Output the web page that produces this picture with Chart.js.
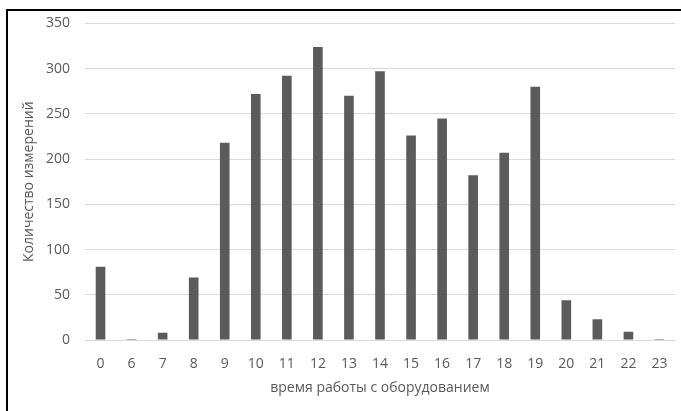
<!DOCTYPE html>
<html lang="ru">
<head>
  <meta charset="UTF-8">
  <title>Количество измерений</title>
  <script src="https://cdn.jsdelivr.net/npm/chart.js"></script>
  <style>
    html, body { margin: 0; padding: 0; background: #fff; overflow: hidden; }
    .frame {
      position: absolute; left: 6px; top: 9px; width: 700px; height: 420px;
      border-left: 2px solid #000; border-top: 2px solid #000;
    }
    .wrap { position: absolute; left: 0; top: 0; width: 681px; height: 411px; }
  </style>
</head>
<body>
  <div class="frame"></div>
  <div class="wrap"><canvas id="chart"></canvas></div>
  <script>
    const hours = ['0', '6', '7', '8', '9', '10', '11', '12', '13', '14', '15', '16', '17', '18', '19', '20', '21', '22', '23'];
    const counts = [81, 1, 8, 69, 218, 272, 292, 324, 270, 297, 226, 245, 182, 207, 280, 44, 23, 9, 1];
    const yTicks = [0, 50, 100, 150, 200, 250, 300, 350];

    const labelFont = { family: 'Open Sans', size: 14 };

    new Chart(document.getElementById('chart'), {
      type: 'bar',
      data: {
        labels: hours,
        datasets: [{
          data: counts,
          backgroundColor: '#5b5b5b',
          barPercentage: 0.31,
          categoryPercentage: 1
        }]
      },
      options: {
        responsive: true,
        maintainAspectRatio: false,
        animation: false,
        layout: { padding: { left: 17, right: 6, top: 15, bottom: 11 } },
        plugins: { legend: { display: false }, tooltip: { enabled: false } },
        scales: {
          x: {
            grid: { display: false },
            border: { color: '#d9d9d9' },
            ticks: { color: '#595959', font: labelFont, padding: 8, maxRotation: 0 },
            title: { display: true, text: 'время работы с оборудованием', color: '#595959', font: labelFont, padding: { top: 3 } },
            afterFit: axis => { axis.height = 60; }
          },
          y: {
            min: 0,
            max: 350,
            afterBuildTicks: axis => { axis.ticks = yTicks.map(v => ({ value: v })); },
            afterFit: axis => { axis.width = 68; },
            grid: { color: '#d9d9d9', drawTicks: false },
            border: { display: false },
            ticks: { color: '#595959', font: labelFont, padding: 15 },
            title: { display: true, text: 'Количество измерений', color: '#595959', font: labelFont }
          }
        }
      }
    });
  </script>
</body>
</html>
